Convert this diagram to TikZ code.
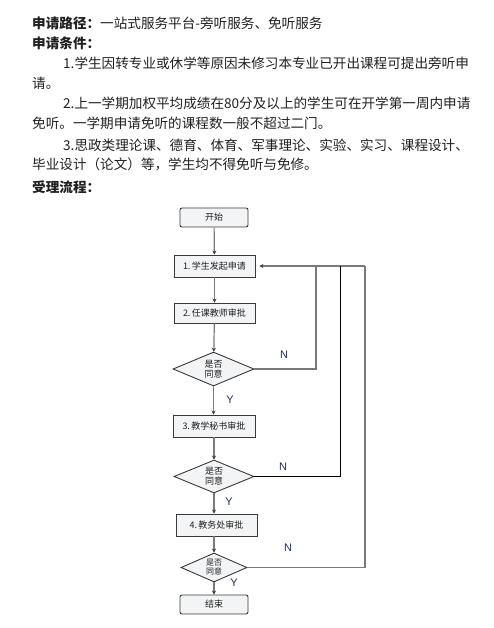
\documentclass[tikz,border=0pt]{standalone}
\usepackage{fontspec}
\setmainfont{Noto Sans CJK SC}
\newfontfamily\ynfont{Liberation Sans}
\usetikzlibrary{shapes.geometric,arrows.meta}
\definecolor{boxfill}{HTML}{F3F4F6}
\definecolor{boxline}{HTML}{3A3A3A}
\definecolor{flowline}{HTML}{7A7A7A}
\definecolor{ynblue}{HTML}{1F2D5C}
\definecolor{bodytext}{HTML}{202020}

\begin{document}
\begin{tikzpicture}[x=1pt,y=-1pt,>={Stealth[length=4pt,width=4pt,color=boxline]}]
    \tikzstyle{every node}=[inner sep=0pt,font=\fontsize{13.6}{16}\selectfont,text=bodytext];
    \tikzstyle{procbox}=[draw=boxline,fill=boxfill,line width=0.9pt,minimum width=81pt,minimum height=22pt,font=\fontsize{9}{10}\selectfont];
    \tikzstyle{termbox}=[procbox,rounded corners=2pt,minimum width=68pt,minimum height=19pt];
    \tikzstyle{decide}=[draw=boxline,fill=boxfill,line width=0.9pt,shape=diamond,aspect=2.4,align=center,font=\fontsize{9}{10}\selectfont];
    \tikzstyle{flow}=[draw=flowline,line width=1.2pt];
    \tikzstyle{yn}=[font=\ynfont\fontsize{11}{12}\selectfont,text=ynblue];
    \useasboundingbox (0,0) rectangle (493,628);

    \node at (32,23)  (hpath) [anchor=west] {{\bfseries 申请路径：}一站式服务平台-旁听服务、免听服务};
    \node at (32,43)  (hcond) [anchor=west] {\bfseries 申请条件：};
    \node at (63,63)  (c1a) [anchor=west] {1.学生因转专业或休学等原因未修习本专业已开出课程可提出旁听申};
    \node at (32,83)  (c1b) [anchor=west] {请。};
    \node at (63,103) (c2a) [anchor=west] {2.上一学期加权平均成绩在80分及以上的学生可在开学第一周内申请};
    \node at (32,123) (c2b) [anchor=west] {免听。一学期申请免听的课程数一般不超过二门。};
    \node at (63,145) (c3a) [anchor=west] {3.思政类理论课、德育、体育、军事理论、实验、实习、课程设计、};
    \node at (32,164) (c3b) [anchor=west] {毕业设计（论文）等，学生均不得免听与免修。};
    \node at (32,187) (hflow) [anchor=west] {\bfseries 受理流程：};

    \node at (214,217.5) (start) [termbox] {开始};
    \node at (214.5,266) (s1) [procbox] {1.\,学生发起申请};
    \node at (214.5,313) (s2) [procbox,minimum height=20pt] {2.\,任课教师审批};
    \node at (213.5,369) (d1) [decide,minimum width=81pt,minimum height=34pt] {是否\\同意};
    \node at (214,426)   (s3) [procbox,minimum width=82pt] {3.\,教学秘书审批};
    \node at (214,476.5) (d2) [decide,minimum width=80pt,minimum height=33pt] {是否\\同意};
    \node at (216.5,525) (s4) [procbox] {4.\,教务处审批};
    \node at (214,567.5) (d3) [decide,minimum width=66pt,minimum height=29pt,font=\fontsize{8}{9}\selectfont] {是否\\同意};
    \node at (214,604.5) (stop) [termbox] {结束};

    \node at (284,355) (n1) [yn] {N};
    \node at (230,400) (y1) [yn] {Y};
    \node at (283,467) (n2) [yn] {N};
    \node at (229,502) (y2) [yn] {Y};
    \node at (288,548) (n3) [yn] {N};
    \node at (234,583) (y3) [yn] {Y};

    \coordinate (r1) at (316,266);
    \coordinate (r2) at (340,266);
    \coordinate (r3) at (365,266);

    \draw[flow,->] (start) -- (s1);
    \draw[flow,->] (s1) -- (s2);
    \draw[flow,->] (s2) -- (d1);
    \draw[flow,->] (d1.south) -- (d1.south |- s3.north);
    \draw[flow,->] (s3) -- (d2);
    \draw[flow,->] (d2.south) -- (d2.south |- s4.north);
    \draw[flow,->] (d2.south |- s4.south) -- (d3.north);
    \draw[flow,->] (d3) -- (stop);
    \draw[flow] (d1.east) -| (r1);
    \draw[flow] (d3.east) -| (r3);
    \draw[flow,->,shorten >=4pt] (r3) -- (s1.east);
    \draw[black,line width=0.8pt] (d2.east) -| (r2);
\end{tikzpicture}
\end{document}
